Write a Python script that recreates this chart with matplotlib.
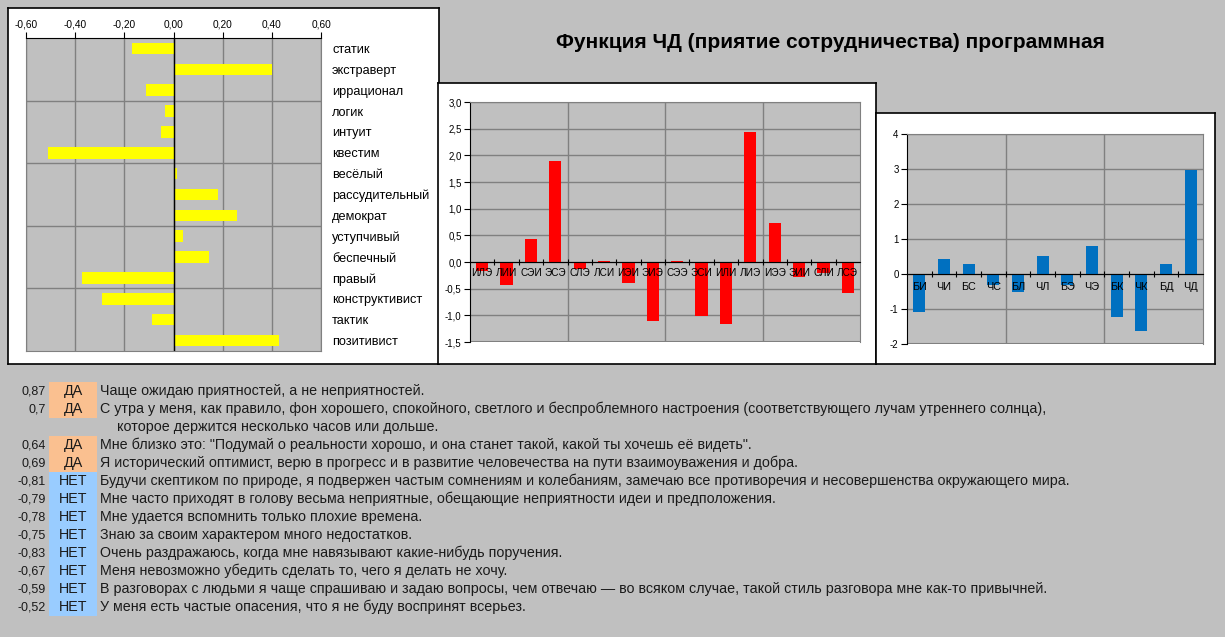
import matplotlib
matplotlib.use('Agg')
import matplotlib.pyplot as plt
from matplotlib.ticker import FuncFormatter, FixedLocator
from matplotlib.patches import Rectangle
import numpy as np

plt.rcParams['font.family'] = ['Liberation Sans', 'DejaVu Sans']

# ---------------- data ----------------
title = "Функция ЧД (приятие сотрудничества) программная"

trait_labels = ["статик", "экстраверт", "иррационал", "логик", "интуит", "квестим",
                "весёлый", "рассудительный", "демократ", "уступчивый", "беспечный",
                "правый", "конструктивист", "тактик", "позитивист"]
trait_values = [-0.17, 0.40, -0.11, -0.034, -0.05, -0.51, 0.014, 0.18, 0.26,
                0.04, 0.146, -0.373, -0.29, -0.087, 0.43]
trait_ticks = [-0.6, -0.4, -0.2, 0.0, 0.2, 0.4, 0.6]

type_labels = ["ИЛЭ", "ЛИИ", "СЭИ", "ЭСЭ", "СЛЭ", "ЛСИ", "ИЭИ", "ЭИЭ",
               "СЭЭ", "ЭСИ", "ИЛИ", "ЛИЭ", "ИЭЭ", "ЭИИ", "СЛИ", "ЛСЭ"]
type_values = [-0.175, -0.44, 0.44, 1.90, -0.14, 0.025, -0.39, -1.11,
               0.025, -1.02, -1.17, 2.44, 0.74, -0.28, -0.20, -0.59]
type_ticks = [-1.5, -1.0, -0.5, 0.0, 0.5, 1.0, 1.5, 2.0, 2.5, 3.0]

func_labels = ["БИ", "ЧИ", "БС", "ЧС", "БЛ", "ЧЛ", "БЭ", "ЧЭ", "БК", "ЧК", "БД", "ЧД"]
func_values = [-1.09, 0.44, 0.29, -0.30, -0.52, 0.52, -0.30, 0.81, -1.23, -1.63, 0.29, 2.97]
func_ticks = [-2, -1, 0, 1, 2, 3, 4]

answer_scores = [0.87, 0.7, 0.64, 0.69, -0.81, -0.79, -0.78, -0.75, -0.83, -0.67, -0.59, -0.52]
answers = ["ДА", "ДА", "ДА", "ДА", "НЕТ", "НЕТ", "НЕТ", "НЕТ", "НЕТ", "НЕТ", "НЕТ", "НЕТ"]
statements = [
    "Чаще ожидаю приятностей, а не неприятностей.",
    "С утра у меня, как правило, фон хорошего, спокойного, светлого и беспроблемного настроения (соответствующего лучам утреннего солнца),\nкоторое держится несколько часов или дольше.",
    "Мне близко это: \"Подумай о реальности хорошо, и она станет такой, какой ты хочешь её видеть\".",
    "Я исторический оптимист, верю в прогресс и в развитие человечества на пути взаимоуважения и добра.",
    "Будучи скептиком по природе, я подвержен частым сомнениям и колебаниям, замечаю все противоречия и несовершенства окружающего мира.",
    "Мне часто приходят в голову весьма неприятные, обещающие неприятности идеи и предположения.",
    "Мне удается вспомнить только плохие времена.",
    "Знаю за своим характером много недостатков.",
    "Очень раздражаюсь, когда мне навязывают какие-нибудь поручения.",
    "Меня невозможно убедить сделать то, чего я делать не хочу.",
    "В разговорах с людьми я чаще спрашиваю и задаю вопросы, чем отвечаю — во всяком случае, такой стиль разговора мне как-то привычней.",
    "У меня есть частые опасения, что я не буду воспринят всерьез.",
]

# ---------------- style ----------------
BG = '#C0C0C0'
GRID = '#808080'
W, H = 1225, 637
fig = plt.figure(figsize=(W / 100, H / 100), dpi=100, facecolor=BG)


def pax(x0, y0, x1, y1, **kw):
    return fig.add_axes([x0 / W, 1 - y1 / H, (x1 - x0) / W, (y1 - y0) / H], **kw)


def panel(x0, y0, x1, y1):
    a = pax(x0, y0, x1, y1)
    a.set_facecolor('white')
    a.set_xticks([]); a.set_yticks([])
    for s in a.spines.values():
        s.set_color('black'); s.set_linewidth(1.2)
    return a


def comma(fmt):
    def f(v, _):
        if abs(v) < 1e-9:
            v = 0.0
        return fmt.format(v).replace('.', ',')
    return FuncFormatter(f)


# ---------- left chart ----------
panel(8, 8, 439, 364)
ax = pax(26, 38, 321, 351)
ax.set_facecolor(BG)
yy = np.arange(len(trait_labels))
ax.barh(yy, trait_values, height=0.55, color='#FFFF00', zorder=2)
ax.set_xlim(trait_ticks[0], trait_ticks[-1])
ax.set_ylim(len(trait_labels) - 0.5, -0.5)
ax.set_xticks(trait_ticks)
ax.xaxis.set_major_formatter(comma('{:.2f}'))
ax.xaxis.tick_top()
ax.tick_params(axis='x', labelsize=7.3, length=4, width=0.8, pad=2, color='black')
ax.set_yticks(yy)
ax.set_yticklabels(trait_labels)
ax.yaxis.tick_right()
ax.tick_params(axis='y', labelsize=9.2, length=0, pad=8)
ax.grid(axis='x', color=GRID, lw=1, zorder=0.5)
for k in range(3, len(trait_labels), 3):
    ax.axhline(k - 0.5, color=GRID, lw=1, zorder=1)
ax.axvline(0, color='black', lw=1, zorder=3)
for s in ax.spines.values():
    s.set_color(GRID)
ax.spines['top'].set_color('black')


# ---------- column charts ----------
def column_chart(box, area, labels, values, ticks, color, width, fmt, bold, lsize, lpad):
    panel(*box)
    a = pax(*area)
    a.set_facecolor(BG)
    x = np.arange(len(labels))
    a.bar(x, values, width=width, color=color, zorder=2)
    a.set_xlim(-0.5, len(labels) - 0.5)
    a.set_ylim(ticks[0], ticks[-1])
    a.set_yticks(ticks)
    a.yaxis.set_major_formatter(comma(fmt))
    a.tick_params(axis='y', labelsize=7.0, length=4, width=0.8, pad=2)
    a.set_xticks(x)
    a.set_xticklabels(labels, fontweight='bold' if bold else 'normal')
    a.tick_params(axis='x', which='major', labelsize=lsize, length=0, pad=lpad)
    a.xaxis.set_minor_locator(FixedLocator(x[:-1] + 0.5))
    a.tick_params(axis='x', which='minor', length=4, width=0.8, direction='inout')
    a.spines['bottom'].set_position(('data', 0))
    a.spines['bottom'].set_color('black')
    a.spines['bottom'].set_zorder(3)
    a.spines['left'].set_color('black')
    a.spines['top'].set_color(GRID)
    a.spines['right'].set_color(GRID)
    a.set_axisbelow(True)
    a.xaxis.set_zorder(4)
    a.grid(axis='y', color=GRID, lw=1)
    for k in range(4, len(labels), 4):
        a.axvline(k - 0.5, color=GRID, lw=1, zorder=1)
    a.axhline(ticks[0], color=GRID, lw=1.5, zorder=1)
    return a


column_chart((438, 83, 876, 364), (470, 102, 860, 342), type_labels, type_values,
             type_ticks, '#FF0000', 0.5, '{:.1f}', False, 7.2, 4.5)
column_chart((876, 113, 1215, 364), (907, 134, 1203, 344), func_labels, func_values,
             func_ticks, '#0070C0', 0.48, '{:.0f}', True, 7.8, 5.5)

# ---------- title ----------
fig.text(830 / W, 1 - 42 / H, title, ha='center', va='center',
         fontsize=15, fontweight='bold', color='black')

# ---------- statements list ----------
tx = pax(0, 372, W, H)
tx.set_xlim(0, W)
tx.set_ylim(H, 372)
tx.axis('off')
tx.patch.set_alpha(0)
row_h = 18
yc = 391
FS = 10.3
for score, ans, stmt in zip(answer_scores, answers, statements):
    col = '#FAC090' if ans == 'ДА' else '#99CCFF'
    tx.add_patch(Rectangle((49, yc - row_h / 2), 48, row_h, facecolor=col,
                           edgecolor='none', zorder=1))
    tx.text(46, yc, f"{score:g}".replace('.', ','), ha='right', va='center',
            fontsize=9.0, color='#1a1a1a', zorder=2)
    tx.text(73, yc, ans, ha='center', va='center', fontsize=FS, color='#1a1a1a', zorder=2)
    lines = stmt.split('\n')
    tx.text(100, yc, lines[0], ha='left', va='center', fontsize=FS,
            color='#1a1a1a', zorder=2)
    yc += row_h
    for extra in lines[1:]:
        tx.text(117, yc, extra, ha='left', va='center', fontsize=FS,
                color='#1a1a1a', zorder=2)
        yc += row_h

fig.savefig('out.png', dpi=100, facecolor=BG)
